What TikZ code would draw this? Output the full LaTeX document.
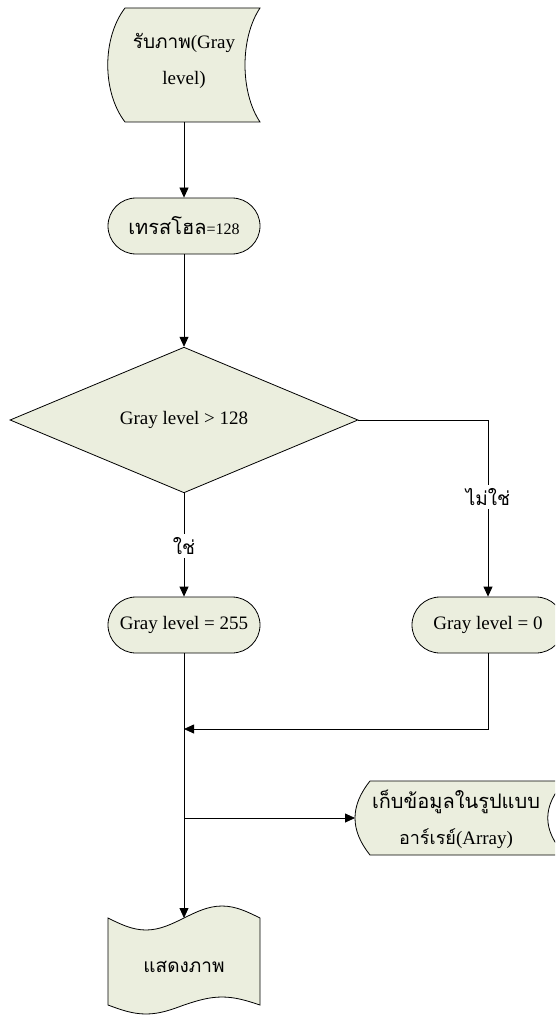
\documentclass[tikz,border=0pt]{standalone}
\usepackage{fontspec}
\setmainfont{Liberation Serif}
\newfontfamily\thai[Script=Thai]{Loma}
\newcommand\thaitxt[2][19]{{\thai\fontsize{#1}{36}\selectfont #2}}
\usetikzlibrary{shapes.geometric,arrows.meta}
\definecolor{boxfill}{RGB}{235,238,222}
\begin{document}
\begin{tikzpicture}[x=1pt,y=-1pt,
  shapeline/.style={draw=black,line width=0.8pt,fill=boxfill},
  term/.style={shapeline, rectangle, rounded corners=28pt, minimum width=152pt, minimum height=56pt, inner sep=0pt, font=\fontsize{19}{23}\selectfont},
  lbl/.style={font=\fontsize{19}{36}\selectfont, align=center, inner sep=0pt},
  conn/.style={line width=0.8pt, -{Triangle[length=10pt,width=9pt]}},
  yesno/.style={fill=white, inner sep=3pt, font=\fontsize{19}{23}\selectfont}
]
\clip (0,0) rectangle (555,1019);
% input (stored data shape)
\path[shapeline] (125,8) -- (260,8) .. controls (240,38) and (240,92) .. (260,122) -- (125,122) .. controls (102,92) and (102,38) .. (125,8) -- cycle;
\node[lbl] (input) at (184,61) {\thaitxt{รับภาพ}(Gray\\level)};
\coordinate (inbot) at (184,122);
% threshold
\node[term] (thr) at (184,226) {\thaitxt[20]{เทรสโฮล}{\fontsize{16}{20}\selectfont=128}};
% decision
\node[shapeline, diamond, minimum width=348pt, minimum height=140pt, inner sep=0pt, font=\fontsize{19}{23}\selectfont] (dec) at (184,420) {Gray level > 128};
% results
\node[term] (w) at (184,625) {Gray level = 255};
\node[term] (b) at (488,625) {Gray level = 0};
% store (stored data shape)
\path[shapeline] (370,781) -- (565,781) .. controls (542,806) and (542,830) .. (565,855) -- (370,855) .. controls (350,830) and (350,806) .. (370,781) -- cycle;
\node[lbl] (store) at (456,819) {\thaitxt[20]{เก็บข้อมูลในรูปแบบ}\\\thaitxt[18]{อาร์เรย์}(Array)};
\coordinate (storeL) at (355,818);
% display (punched tape shape)
\path[shapeline] (108,918) sin (146,930) cos (184,918) sin (222,906) cos (260,918) -- (260,1005) sin (222,997) cos (184,1005) sin (146,1014) cos (108,1005) -- cycle;
\node[lbl] (disp) at (184,967) {\thaitxt{แสดงภาพ}};
\coordinate (doctop) at (184,918);
% connectors
\coordinate (merge) at (184,729);
\coordinate (br) at (184,818);
\draw[conn] (inbot) -- (thr.north);
\draw[conn] (thr.south) -- (dec.north);
\draw[conn] (dec.south) -- (w.north);
\draw[conn] (dec.east) -| (b.north);
\draw[conn] (b.south) |- (merge);
\draw[conn] (w.south) -- (doctop);
\draw[conn] (br) -- (storeL);
\node[yesno] (yes) at (184,546) {\thaitxt{ใช่}};
\node[yesno] (no) at (488,497) {\thaitxt{ไม่ใช่}};
\end{tikzpicture}
\end{document}
